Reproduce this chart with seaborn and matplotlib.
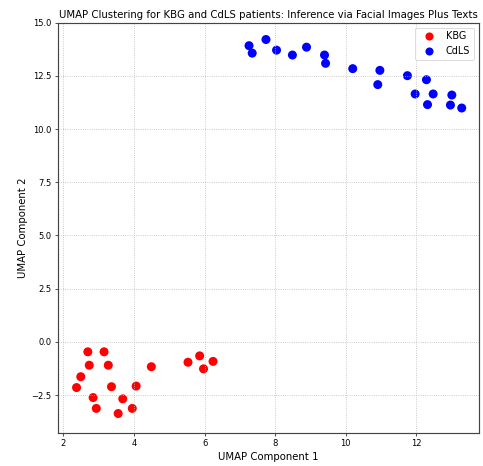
import matplotlib
matplotlib.use("Agg")
import matplotlib.pyplot as plt
import seaborn as sns
import pandas as pd

kbg_x = [2.69, 3.15, 2.73, 3.27, 2.49, 2.37, 3.36, 4.06, 2.84, 3.68, 2.93, 3.95, 3.55,
         4.49, 5.53, 5.86, 5.97, 6.24]
kbg_y = [-0.47, -0.47, -1.10, -1.10, -1.64, -2.15, -2.11, -2.08, -2.62, -2.68, -3.13, -3.13, -3.37,
         -1.17, -0.96, -0.66, -1.27, -0.92]
cdls_x = [7.26, 7.35, 7.74, 8.04, 8.49, 8.89, 9.40, 9.43, 10.20, 10.97, 10.91, 11.75, 12.29,
          11.97, 12.48, 13.01, 12.32, 12.97, 13.29]
cdls_y = [13.92, 13.57, 14.21, 13.71, 13.48, 13.85, 13.48, 13.09, 12.84, 12.76, 12.09, 12.51, 12.32,
          11.65, 11.65, 11.60, 11.15, 11.13, 10.99]
groups = ["KBG", "CdLS"]
colors = {"KBG": "red", "CdLS": "blue"}

df = pd.DataFrame({
    "x": kbg_x + cdls_x,
    "y": kbg_y + cdls_y,
    "group": [groups[0]] * len(kbg_x) + [groups[1]] * len(cdls_x),
})

fig = plt.figure(figsize=(8, 466 / 60.375), dpi=60.375)
ax = fig.add_axes([57.5 / 483, 1 - 433.3 / 466, (479 - 57.5) / 483, (433.3 - 22.7) / 466])
sns.scatterplot(data=df, x="x", y="y", hue="group", palette=colors, s=115,
                edgecolor="none", linewidth=0, ax=ax)
ax.set_title("UMAP Clustering for KBG and CdLS patients: Inference via Facial Images Plus Texts",
             fontsize=12)
ax.set_xlabel("UMAP Component 1", fontsize=12)
ax.set_ylabel("UMAP Component 2", fontsize=12)
ax.tick_params(labelsize=10)
ax.grid(True, linestyle=":", color="#bbbbbb", linewidth=1.0)
for s in ax.spines.values():
    s.set_linewidth(1.4)
    s.set_color("#444444")
ax.set_xlim(1.83, 13.78)
ax.set_ylim(-4.3, 15.0)
ax.set_xticks([2, 4, 6, 8, 10, 12])
ax.set_yticks([-2.5, 0.0, 2.5, 5.0, 7.5, 10.0, 12.5, 15.0])
leg = ax.legend(loc="upper right", fontsize=11.5, title=None, markerscale=0.9)
fig.savefig("out.png", dpi=60.375)
